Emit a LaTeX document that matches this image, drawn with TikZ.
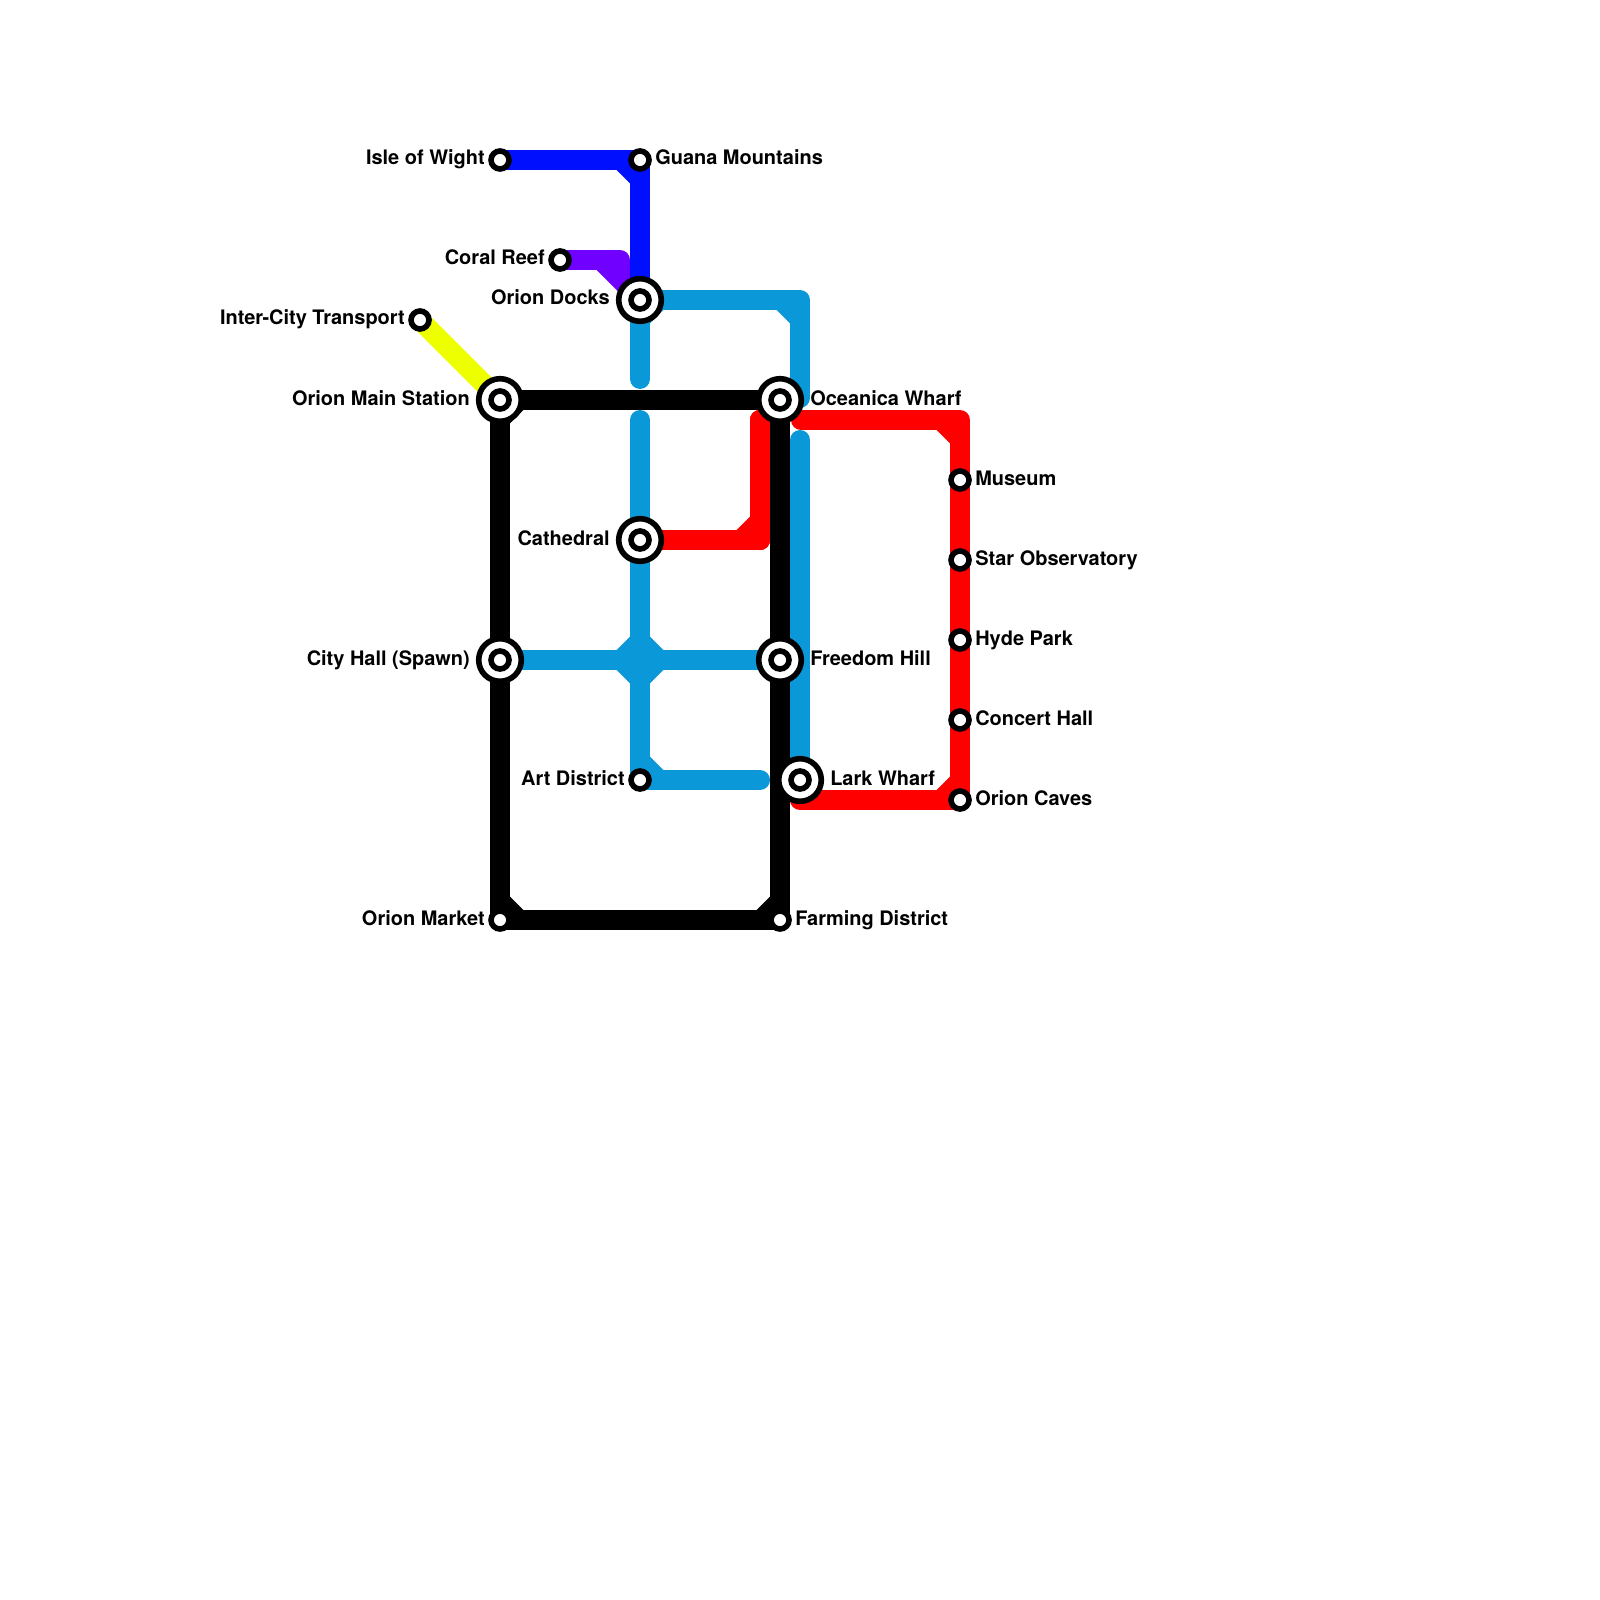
\documentclass[tikz,border=0pt]{standalone}
\usepackage{fontspec}
\setmainfont{TeX Gyre Heros}
\definecolor{lineyellow}{HTML}{EEFF00}
\definecolor{linepurple}{HTML}{7000FF}
\definecolor{lineblue}{HTML}{0010FF}
\definecolor{linecyan}{HTML}{0A98D8}
\definecolor{linered}{HTML}{FF0000}
\newcommand{\chamfer}[4]{\fill[#1] (#2) -- ++({(#3)*13.3},0) -- ++({-(#3)*13.3},{(#4)*13.3}) -- cycle;}
\tikzset{
	every label/.style={font=\fontsize{14.2pt}{16pt}\selectfont\bfseries,inner ysep=0pt,text height=3.75mm,text depth=1.25mm},
	stoplabel/.style={inner xsep=3.75mm},
	hublabel/.style={inner xsep=7.5mm},
	metro/.style={line width=5mm,line cap=round,line join=round}
}
\begin{document}
\begin{tikzpicture}[x=0.25mm,y=-0.25mm]
\useasboundingbox (0,0) rectangle (1600,1600);
\coordinate[label={[stoplabel]left:Isle of Wight}] (IW) at (500,160);
\coordinate[label={[stoplabel]right:Guana Mountains}] (GM) at (640,160);
\coordinate[label={[stoplabel]left:Coral Reef}] (CR) at (560,260);
\coordinate[label={[hublabel]left:Orion Docks}] (OD) at (640,300);
\coordinate[label={[stoplabel]left:Inter-City Transport}] (IC) at (420,320);
\coordinate[label={[hublabel]left:Orion Main Station}] (OM) at (500,400);
\coordinate[label={[hublabel]right:Oceanica Wharf}] (OW) at (780,400);
\coordinate[label={[hublabel]left:Cathedral}] (CA) at (640,540);
\coordinate[label={[hublabel]left:City Hall (Spawn)}] (CH) at (500,660);
\coordinate[label={[hublabel]right:Freedom Hill}] (FH) at (780,660);
\coordinate[label={[stoplabel]left:Art District}] (AD) at (640,780);
\coordinate[label={[hublabel]right:Lark Wharf}] (LW) at (800,780);
\coordinate[label={[stoplabel]left:Orion Market}] (MK) at (500,920);
\coordinate[label={[stoplabel]right:Farming District}] (FD) at (780,920);
\coordinate[label={[stoplabel]right:Museum}] (MU) at (960,480);
\coordinate[label={[stoplabel]right:Star Observatory}] (SO) at (960,560);
\coordinate[label={[stoplabel]right:Hyde Park}] (HP) at (960,640);
\coordinate[label={[stoplabel]right:Concert Hall}] (CO) at (960,720);
\coordinate[label={[stoplabel]right:Orion Caves}] (OC) at (960,800);
% free line ends
\coordinate (P1) at (620,260);
\coordinate (P2) at (620,270);
\coordinate (C1) at (800,300);
\coordinate (C2) at (800,398);
\coordinate (C3) at (640,379);
\coordinate (C4) at (640,420);
\coordinate (C5) at (760,780);
\coordinate (C6) at (800,440);
\coordinate (R1) at (780,420);
\coordinate (R2) at (760,420);
\coordinate (R3) at (760,540);
\coordinate (R4) at (801,420);
\coordinate (R5) at (960,420);
\coordinate (R6) at (800,800);
% lines
\draw[metro,lineyellow] (IC) -- (OM);
\draw[metro,linepurple] (CR) -- (P1) -- (P2);
\fill[linepurple] (596.7,270) -- (620,293.3) -- (630,293.3) -- (630,270) -- cycle;
\draw[metro,lineblue] (IW) -- (GM) -- (OD);
\chamfer{lineblue}{630,170}{-1}{1}
\draw[metro,linecyan] (OD) -- (C1) -- (C2);
\draw[metro,linecyan] (OD) -- (C3);
\draw[metro,linecyan] (C4) -- (AD) -- (C5);
\draw[metro,linecyan] (CH) -- (FH);
\draw[metro,linecyan] (C6) -- (LW);
\chamfer{linecyan}{790,310}{-1}{1}
\chamfer{linecyan}{650,310}{1}{1}
\chamfer{linecyan}{650,770}{1}{-1}
\foreach \sx/\sy in {-1/-1,1/-1,-1/1,1/1}
	\chamfer{linecyan}{{640+\sx*10},{660+\sy*10}}{\sx}{\sy}
\draw[metro,linered] (CA) -- (R3) -- (R2) -- (R1);
\draw[metro,linered] (R4) -- (R5) -- (OC) -- (R6) -- (LW);
\chamfer{linered}{750,530}{-1}{-1}
\chamfer{linered}{950,430}{-1}{1}
\chamfer{linered}{950,790}{-1}{-1}
\draw[metro,black] (OM) -- (OW);
\draw[metro,black] (OM) -- (MK) -- (FD) -- (OW);
\chamfer{black}{510,410}{1}{1}
\chamfer{black}{510,910}{1}{-1}
\chamfer{black}{770,910}{-1}{-1}
% stations
\foreach \p in {OD,OM,OW,CA,CH,FH,LW}
	\filldraw[fill=white,draw=black,line width=1.4mm] (\p) circle (21.3);
\foreach \p in {IW,GM,CR,OD,IC,OM,OW,CA,CH,FH,AD,LW,MK,FD,MU,SO,HP,CO,OC}
	\filldraw[fill=white,draw=black,line width=1.4mm] (\p) circle (9);
\end{tikzpicture}
\end{document}
